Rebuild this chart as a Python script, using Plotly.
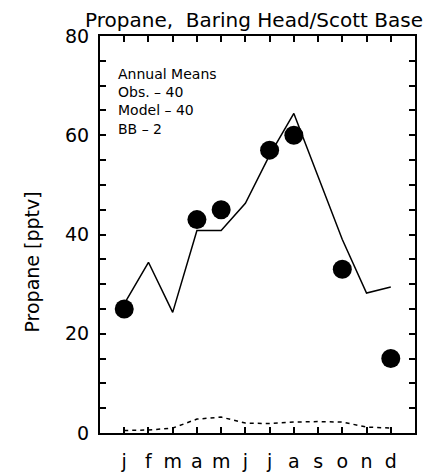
import plotly.graph_objects as go

# Monthly propane mixing ratios (pptv), Baring Head / Scott Base
months = ["j", "f", "m", "a", "m", "j", "j", "a", "s", "o", "n", "d"]
month_pos = list(range(1, 13))

obs_month = [1, 4, 5, 7, 8, 10, 12]
obs_value = [25, 43, 45, 57, 60, 33, 15]

model_value = [26, 34.4, 24.3, 40.8, 40.8, 46.3, 56, 64.4, 51.7, 39, 28.2, 29.4]
bb_value = [0.5, 0.6, 1.0, 2.8, 3.2, 2.0, 1.9, 2.2, 2.3, 2.2, 1.2, 1.0]

y_ticks = list(range(0, 81, 5))
y_labels = [str(v) if v % 20 == 0 else "" for v in y_ticks]

FONT = "DejaVu Sans"

fig = go.Figure()
fig.add_trace(go.Scatter(x=month_pos, y=model_value, mode="lines",
                         line=dict(color="black", width=1.5)))
fig.add_trace(go.Scatter(x=month_pos, y=bb_value, mode="lines",
                         line=dict(color="black", width=1.5, dash="4px,4px")))
fig.add_trace(go.Scatter(x=obs_month, y=obs_value, mode="markers",
                         marker=dict(color="black", size=19, line=dict(width=0))))

fig.update_layout(
    width=435, height=474,
    margin=dict(l=100, r=20, t=36, b=41, autoexpand=False),
    paper_bgcolor="white", plot_bgcolor="white",
    showlegend=False,
    font=dict(family=FONT, size=18, color="black"),
    title=dict(text="Propane,  Baring Head/Scott Base", x=0.584, xanchor="center",
               y=0.957, yanchor="middle", font=dict(family=FONT, size=20)),
)
fig.update_xaxes(
    range=[0, 13], tickvals=month_pos, ticktext=months, automargin=False,
    ticks="inside", ticklen=6, tickwidth=1.5, tickcolor="black",
    showline=True, linecolor="black", linewidth=2, mirror="allticks",
    showgrid=False, zeroline=False, tickfont=dict(size=19), ticklabelstandoff=10,
)
fig.update_yaxes(
    range=[0, 80], tickvals=y_ticks, ticktext=y_labels, automargin=False,
    ticks="inside", ticklen=6, tickwidth=1.5, tickcolor="black",
    showline=True, linecolor="black", linewidth=2, mirror="allticks",
    showgrid=False, zeroline=False, tickfont=dict(size=19), ticklabelstandoff=5,
)
fig.add_annotation(text="Propane [pptv]", textangle=-90, xref="paper", yref="paper",
                   x=-0.215, y=0.43, xanchor="center", yanchor="middle",
                   showarrow=False, font=dict(family=FONT, size=19))
fig.add_annotation(text="Annual Means<br>Obs. \u2013 40<br>Model \u2013 40<br>BB \u2013 2",
                   xref="paper", yref="paper", x=0.05, y=0.93,
                   xanchor="left", yanchor="top", align="left", showarrow=False,
                   font=dict(family=FONT, size=14))

fig.write_html("out.html")
